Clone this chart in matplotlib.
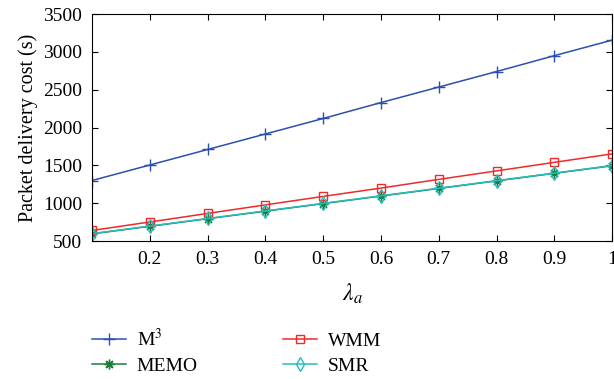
import matplotlib.pyplot as plt

plt.rcParams['font.family'] = ['Liberation Serif', 'DejaVu Serif']
plt.rcParams['mathtext.fontset'] = 'stix'

lam = [0.1, 0.2, 0.3, 0.4, 0.5, 0.6, 0.7, 0.8, 0.9, 1.0]
m3 = [1300, 1505, 1710, 1915, 2120, 2330, 2535, 2740, 2950, 3155]
wmm = [640, 752, 865, 978, 1090, 1200, 1315, 1427, 1540, 1652]
memo = [595, 695, 795, 895, 995, 1095, 1195, 1295, 1395, 1495]
smr = [598, 698, 798, 898, 998, 1098, 1198, 1298, 1398, 1498]

fig = plt.figure(figsize=(6.14, 3.79), dpi=100)
ax = fig.add_axes([0.150, 0.364, 0.847, 0.599])

ax.plot(lam, m3, '-', marker='+', color='#2b4fae', lw=1.1, ms=8, mew=1.0, label='M$^3$')
ax.plot(lam, memo, '-', marker=(8, 2, 0), color='#1e7b3c', lw=1.1, ms=7, mew=1.0, label='MEMO')
ax.plot(lam, wmm, '-', marker='s', color='#ee2a2a', lw=1.1, ms=6, mew=1.0, mfc='none', label='WMM')
ax.plot(lam, smr, '-', marker='d', color='#27bcbc', lw=1.1, ms=7, mew=1.0, mfc='none', label='SMR')

ax.set_xlim(0.1, 1.0)
ax.set_ylim(500, 3500)
ax.set_xticks([0.2, 0.3, 0.4, 0.5, 0.6, 0.7, 0.8, 0.9, 1.0])
ax.set_xticklabels(['0.2', '0.3', '0.4', '0.5', '0.6', '0.7', '0.8', '0.9', '1'])
ax.set_yticks(range(500, 3501, 500))
ax.tick_params(direction='in', top=True, right=True, labelsize=14, length=4, pad=7)
ax.set_xlabel(r'$\lambda_a$', fontsize=17, labelpad=10)
ax.set_ylabel('Packet delivery cost (s)', fontsize=14.5, labelpad=4)

handles, labels = ax.get_legend_handles_labels()
fig.legend(handles, labels, ncol=2, loc='upper left', bbox_to_anchor=(0.137, 0.156),
           frameon=False, fontsize=14, handlelength=1.75, columnspacing=4.4,
           labelspacing=0.4, handletextpad=0.55, borderaxespad=0)

fig.savefig('out.png', dpi=100)
